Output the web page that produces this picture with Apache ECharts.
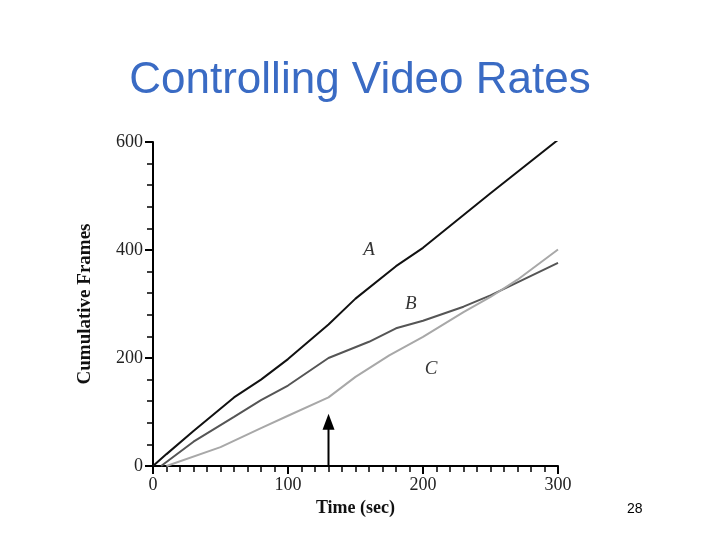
<!DOCTYPE html>
<html>
<head>
<meta charset="utf-8">
<script src="https://cdn.jsdelivr.net/npm/echarts@6/dist/echarts.min.js"></script>
<style>html,body{margin:0;padding:0;background:#fff}#main{width:720px;height:540px}</style>
</head>
<body>
<div id="main"></div>
<script>
// cumulative frames over time (sec)
const seriesA = [[0,0],[10,22],[30,65],[60,127],[80,160],[100,198],[130,262],[150,310],[180,370],[200,404],[250,505],[300,604]];
const seriesB = [[6,0],[30,45],[60,91],[80,122],[100,149],[130,200],[160,230],[180,255],[200,269],[230,295],[250,316],[270,340],[300,376]];
const seriesC = [[10,0],[50,35],[80,70],[100,93],[130,127],[150,165],[175,205],[200,239],[230,285],[250,313],[270,345],[300,401]];
const curveLabels = [[160,400,'A'],[191,300,'B'],[206,180,'C']];
const arrowAt = [[130,0],[130,82]];

function fnLine(data, color, name){
  return {
    name: name,
    type: 'line',
    data: data,
    showSymbol: false,
    lineStyle: { color: color, width: 2 },
    animation: false
  }
}

const serif = 'Liberation Serif';
let chart = echarts.init(document.getElementById('main'));
let series = [
  fnLine(seriesA, '#111', 'A'),
  fnLine(seriesB, '#555', 'B'),
  fnLine(seriesC, '#a8a8a8', 'C'),
  {
    type: 'scatter',
    symbolSize: 0,
    data: curveLabels.map(d => ({ value: [d[0], d[1]], name: d[2] })),
    label: {
      show: true, position: 'inside', formatter: p => p.name,
      fontFamily: serif, fontStyle: 'italic', fontSize: 19, color: '#000'
    },
    animation: false
  },
  {
    type: 'line',
    data: arrowAt,
    showSymbol: false,
    lineStyle: { color: '#000', width: 2 },
    markPoint: {
      symbol: 'triangle', symbolSize: [12, 16], symbolOffset: [0, 0],
      itemStyle: { color: '#000' },
      label: { show: false },
      data: [{ coord: arrowAt[1] }]
    },
    animation: false
  }
];

chart.setOption({
  title: [{
    text: 'Controlling Video Rates', left: 'center', top: 54,
    textStyle: { fontFamily: 'Liberation Sans', fontWeight: 'normal', fontSize: 44, color: '#3a6bc4' }
  }, {
    text: '28', left: 622, top: 497,
    textStyle: { fontFamily: 'Liberation Sans', fontWeight: 'normal', fontSize: 14, color: '#000' }
  }],
  grid: { left: 153, right: 162, top: 142, bottom: 74 },
  xAxis: {
    type: 'value', min: 0, max: 300, interval: 100,
    name: 'Time (sec)', nameLocation: 'middle', nameGap: 32,
    nameTextStyle: { fontFamily: serif, fontWeight: 'bold', fontSize: 18, color: '#111' },
    axisLine: { lineStyle: { color: '#000', width: 2 } },
    axisTick: { length: 8, lineStyle: { color: '#000', width: 2 } },
    minorTick: { show: true, splitNumber: 10, length: 6, lineStyle: { color: '#000', width: 1.5 } },
    axisLabel: { fontFamily: serif, fontSize: 18, color: '#222', margin: 10 },
    splitLine: { show: false }
  },
  yAxis: {
    type: 'value', min: 0, max: 600, interval: 200,
    name: 'Cumulative Frames', nameLocation: 'middle', nameGap: 58,
    nameTextStyle: { fontFamily: serif, fontWeight: 'bold', fontSize: 19, color: '#111' },
    axisLine: { show: true, lineStyle: { color: '#000', width: 2 } },
    axisTick: { show: true, length: 8, lineStyle: { color: '#000', width: 2 } },
    minorTick: { show: true, splitNumber: 5, length: 6, lineStyle: { color: '#000', width: 1.5 } },
    axisLabel: { fontFamily: serif, fontSize: 18, color: '#222', margin: 10 },
    splitLine: { show: false }
  },
  series: series
});
</script>
</body>
</html>
